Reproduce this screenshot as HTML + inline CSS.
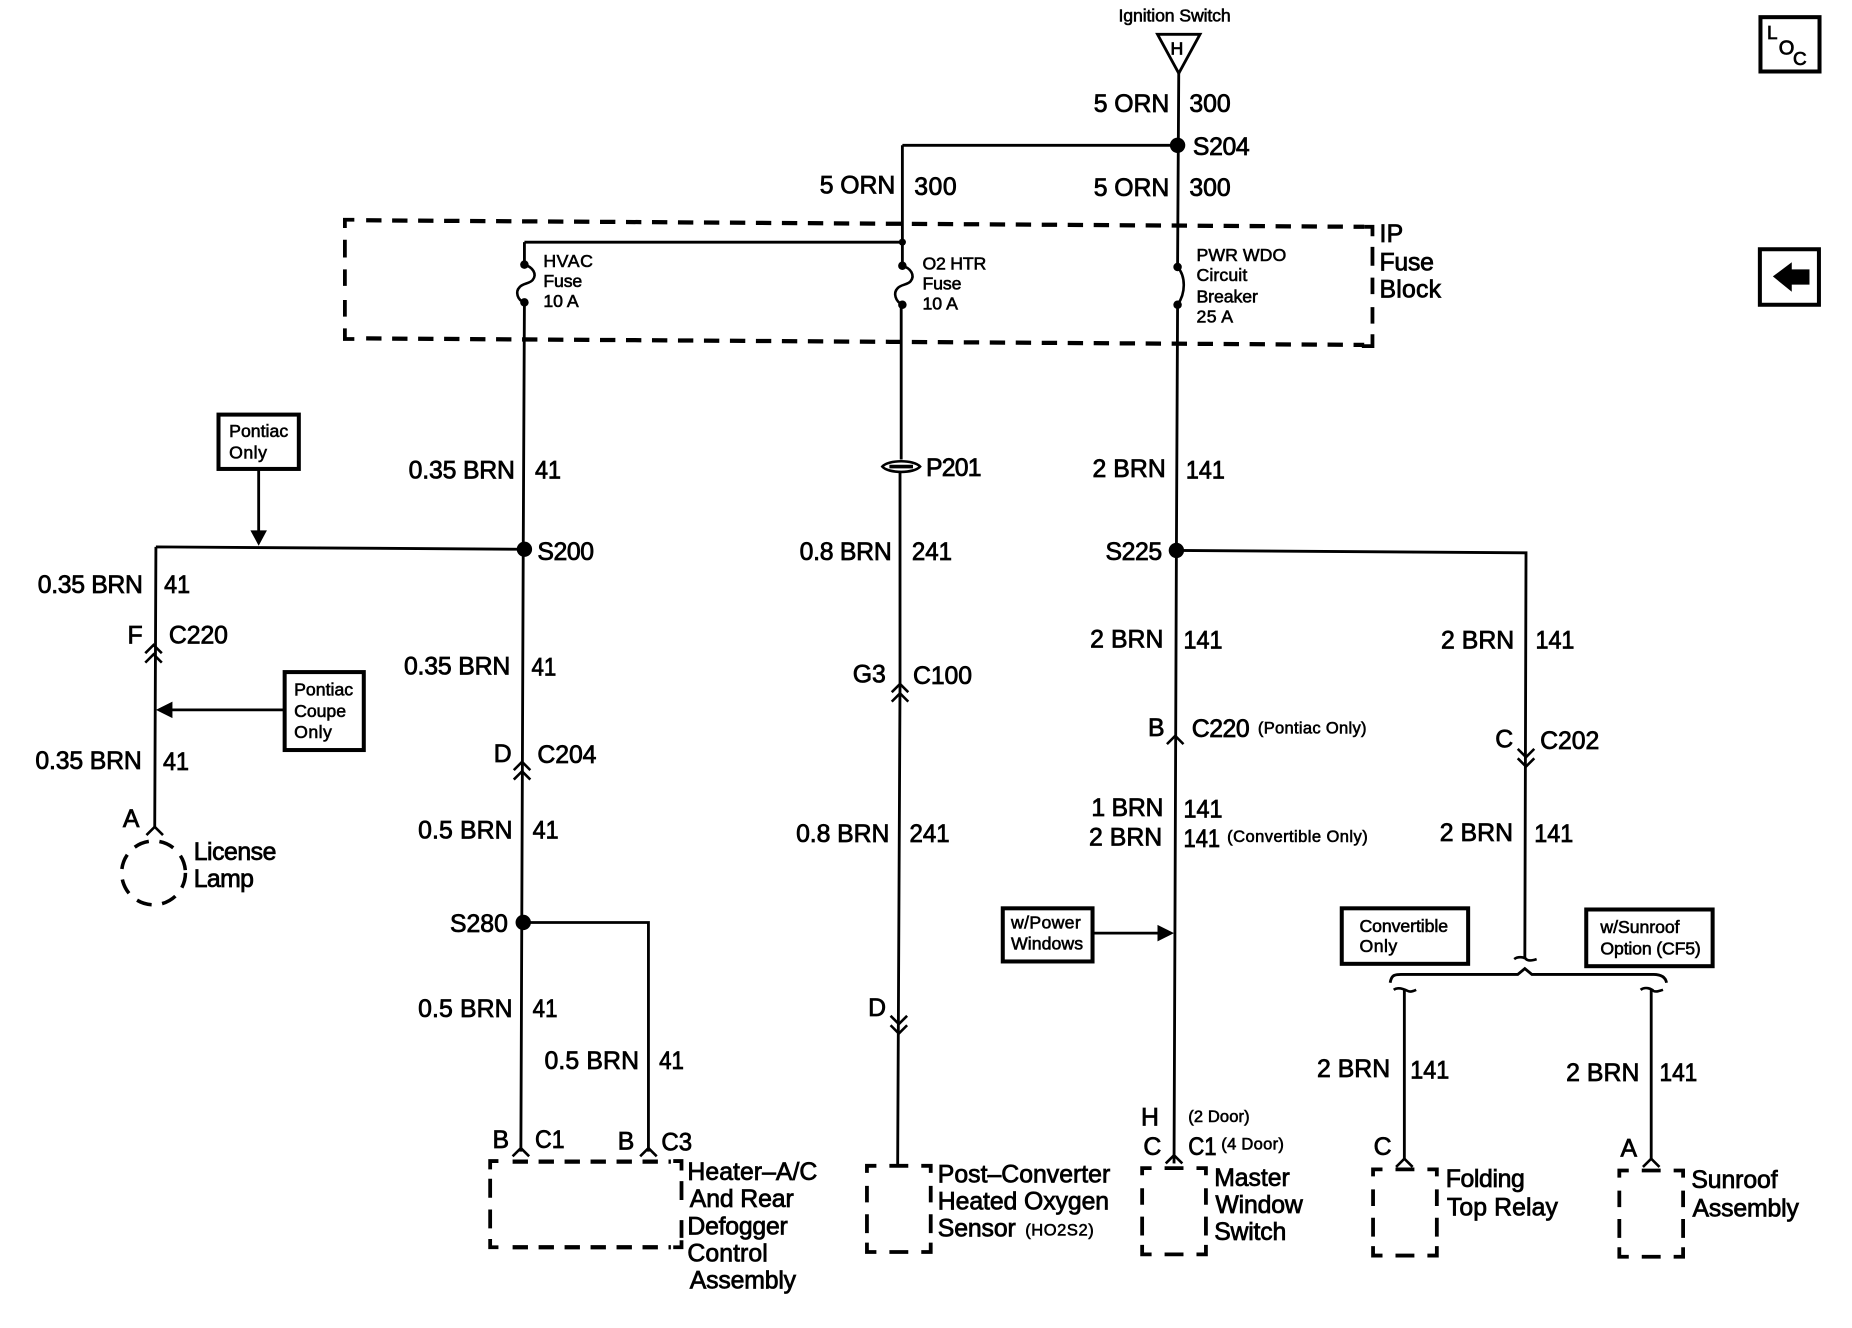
<!DOCTYPE html>
<html><head><meta charset="utf-8"><style>
html,body{margin:0;padding:0;background:#fff;width:1852px;height:1328px;overflow:hidden}
svg{display:block}
text{font-family:"Liberation Sans",sans-serif;fill:#000;stroke:#000;stroke-width:.65;font-size:21px}
.s{font-size:15px;stroke-width:.5}.m{font-size:14px;stroke-width:.5}
.w{fill:none;stroke:#000;stroke-width:2.4}
.d{fill:none;stroke:#000;stroke-width:3.6;stroke-dasharray:13 9}
.e{fill:none;stroke:#000;stroke-width:3.2}
.b{fill:#fff;stroke:#000;stroke-width:3.4}
.c{fill:none;stroke:#000;stroke-width:2.2}
</style></head><body>
<svg width="1852" height="1328" viewBox="0 0 1568 1124.3" xmlns="http://www.w3.org/2000/svg">
<!-- wires -->
<path class="w" d="M998 60L997 225M997 258L996 467L994 985"/>
<path class="w" d="M764 123L997 123M764 123L764 225M763 258L763 389M762 400L762 580L760 988"/>
<path class="w" d="M444 205L764 205M444 205L444 225M444 256L443 465L441 975"/>
<path class="w" d="M132 463L444 465M132 463L131 700"/>
<path class="w" d="M443 781L549 781L549 975"/>
<path class="w" d="M996 466L1292 468L1291 812"/>
<path class="w" d="M1189 838L1189 982M1398 838L1398 982"/>
<!-- splices -->
<circle cx="997" cy="123" r="6.5"/><circle cx="444" cy="465" r="6.5"/><circle cx="996" cy="466" r="6.5"/><circle cx="443" cy="781" r="6.5"/>
<circle cx="764" cy="205" r="3"/>
<!-- fuses -->
<g fill="none" stroke="#000" stroke-width="2.2">
<path d="M444 224C451 226 455 232 451 237C449 240 442 240 440 243C436 247 438 254 444 256"/>
<path d="M764 225C771 227 775 233 771 238C769 241 762 241 760 244C756 248 758 255 764 258"/>
<path d="M997 226C1004 234 1004 248 997 258"/>
</g>
<circle cx="444" cy="224" r="3.6"/><circle cx="444" cy="256" r="3.6"/><circle cx="764" cy="225" r="3.6"/><circle cx="764" cy="258" r="3.6"/><circle cx="997" cy="226" r="3.6"/><circle cx="997" cy="258" r="3.6"/>
<!-- IP fuse block -->
<path class="d" d="M310 186.5L1155 192"/>
<path class="d" d="M310 286.5L1155 292"/>
<path class="e" d="M300 186H292V193M292 203V218M292 228V242M292 254V268M292 278V287H300"/>
<path class="e" d="M1155 192H1162V200M1162 209V225M1162 235V249M1162 260V274M1162 283V293H1153"/>
<!-- P201 -->
<path d="M747 395C752 389 774 389 779 395C774 401 752 401 747 395Z" fill="#fff" stroke="#000" stroke-width="2.2"/>
<path d="M753 395H773" stroke="#000" stroke-width="3"/>
<!-- Ignition -->
<path d="M980 29H1016L998 62Z" fill="#fff" stroke="#000" stroke-width="2.4"/>
<text x="991" y="46" textLength="12" style="font-size:15px">H</text>
<!-- chevrons -->
<path class="c" d="M123 553L130 546L137 553M123 561L130 554L137 561"/>
<path class="c" d="M435 652L442 645L449 652M435 660L442 653L449 660"/>
<path class="c" d="M755 586L762 579L769 586M755 594L762 587L769 594"/>
<path class="c" d="M988 630L995 623L1002 630"/>
<path class="c" d="M1285 634L1292 641L1299 634M1285 642L1292 649L1299 642"/>
<path class="c" d="M754 860L761 867L768 860M754 868L761 875L768 868"/>
<path class="c" d="M124 707L131 700L138 707"/>
<path class="c" d="M434 979L441 972L448 979"/>
<path class="c" d="M542 979L549 972L556 979"/>
<path class="c" d="M987 985L994 978L1001 985"/>
<path class="c" d="M1182 988L1189 981L1196 988"/>
<path class="c" d="M1391 988L1398 981L1405 988"/>
<!-- brackets -->
<path class="w" d="M1177 832C1178 826 1180 825 1186 825H1285L1291 820L1297 825H1400C1406 825 1410 827 1411 832"/>
<path class="c" d="M1282 812C1286 809 1292 811 1292 812C1294 814 1298 813 1301 812"/>
<path class="c" d="M1180 838C1184 835 1190 838 1192 839C1194 840 1197 839 1199 838"/>
<path class="c" d="M1389 838C1393 835 1398 837 1400 839C1402 840 1405 839 1408 838"/>
<!-- note boxes & arrows -->
<rect class="b" x="185" y="351" width="68" height="46"/>
<path class="w" d="M219 397V450"/><path d="M212 449H226L219 462Z"/>
<rect class="b" x="241" y="569" width="67" height="66"/>
<path class="w" d="M240 601H145"/><path d="M146 594V608L132 601Z"/>
<rect class="b" x="849" y="769" width="76" height="45"/>
<path class="w" d="M925 790H982"/><path d="M980 783V797L994 790Z"/>
<rect class="b" x="1136" y="769" width="107" height="47"/>
<rect class="b" x="1343" y="770" width="107" height="48"/>
<rect class="b" x="1490.5" y="14.5" width="50" height="46"/>
<rect class="b" x="1490" y="211" width="50" height="47"/>
<path d="M1501 234L1517 222V228H1532V241H1517V247Z"/>
<!-- dashed devices -->
<circle cx="130" cy="739" r="27" fill="none" stroke="#000" stroke-width="3" stroke-dasharray="13 9"/>
<path class="e" d="M415 990V983H422"/>
<path class="d" d="M434 983.5H568"/>
<path class="e" d="M570 983H577V991M577 1000V1016M577 1033V1048M577 1050V1056H570"/>
<path class="d" d="M434 1056H568"/>
<path class="e" d="M415 998V1014M415 1024V1040M415 1049V1056H422"/>
<g class="e"><path id="dbx" class="e" transform="translate(734,987)" d="M0 6V0H8M19 0H35M46 0H54V6M54 17V31M54 41V57M54 65V73H46M35 73H19M8 73H0V65M0 57V41M0 31V17"/></g>
<path class="e" transform="translate(967,989)" d="M0 6V0H8M19 0H35M46 0H54V6M54 17V31M54 41V57M54 65V73H46M35 73H19M8 73H0V65M0 57V41M0 31V17"/>
<path class="e" transform="translate(1162.5,990)" d="M0 6V0H8M19 0H35M46 0H54V6M54 17V31M54 41V57M54 65V73H46M35 73H19M8 73H0V65M0 57V41M0 31V17"/>
<path class="e" transform="translate(1371,991)" d="M0 6V0H8M19 0H35M46 0H54V6M54 17V31M54 41V57M54 65V73H46M35 73H19M8 73H0V65M0 57V41M0 31V17"/>
<!-- labels -->
<text class="s" x="947" y="18" textLength="95">Ignition Switch</text>
<text x="926" y="95" textLength="64">5 ORN</text><text x="1007" y="95" textLength="35">300</text>
<text x="1010" y="131" textLength="48">S204</text>
<text x="694" y="164" textLength="64">5 ORN</text><text x="774" y="165" textLength="36">300</text>
<text x="926" y="166" textLength="64">5 ORN</text><text x="1007" y="166" textLength="35">300</text>
<text class="s" x="460" y="226" textLength="42">HVAC</text><text class="s" x="460" y="243" textLength="33">Fuse</text><text class="s" x="460" y="260" textLength="30">10 A</text>
<text class="s" x="781" y="228" textLength="54">O2 HTR</text><text class="s" x="781" y="245" textLength="33">Fuse</text><text class="s" x="781" y="262" textLength="30">10 A</text>
<text class="s" x="1013" y="221" textLength="76">PWR WDO</text><text class="s" x="1013" y="238" textLength="43">Circuit</text><text class="s" x="1013" y="256" textLength="52">Breaker</text><text class="s" x="1013" y="273" textLength="31">25 A</text>
<text x="1168" y="205" textLength="20">IP</text><text x="1168" y="229" textLength="46">Fuse</text><text x="1168" y="252" textLength="52">Block</text>
<text x="346" y="405" textLength="90">0.35 BRN</text><text x="453" y="405" textLength="22" lengthAdjust="spacingAndGlyphs">41</text>
<text x="784" y="403" textLength="47">P201</text>
<text x="925" y="404" textLength="62">2 BRN</text><text x="1004" y="405" textLength="33" lengthAdjust="spacingAndGlyphs">141</text>
<text x="455" y="474" textLength="48">S200</text><text x="677" y="474" textLength="78">0.8 BRN</text><text x="772" y="474" textLength="34" lengthAdjust="spacingAndGlyphs">241</text><text x="936" y="474" textLength="48">S225</text>
<text class="s" x="194" y="370" textLength="50">Pontiac</text><text class="s" x="194" y="388" textLength="32">Only</text>
<text x="32" y="502" textLength="89">0.35 BRN</text><text x="139" y="502" textLength="22" lengthAdjust="spacingAndGlyphs">41</text>
<text x="108" y="545" textLength="12">F</text><text x="143" y="545" textLength="50">C220</text>
<text x="342" y="571" textLength="90">0.35 BRN</text><text x="450" y="572" textLength="21" lengthAdjust="spacingAndGlyphs">41</text>
<text x="923" y="548" textLength="62">2 BRN</text><text x="1002" y="549" textLength="33" lengthAdjust="spacingAndGlyphs">141</text><text x="1220" y="549" textLength="62">2 BRN</text><text x="1300" y="549" textLength="33" lengthAdjust="spacingAndGlyphs">141</text>
<text x="722" y="578" textLength="28">G3</text><text x="773" y="579" textLength="50">C100</text>
<text class="s" x="249" y="589" textLength="50">Pontiac</text><text class="s" x="249" y="607" textLength="44">Coupe</text><text class="s" x="249" y="625" textLength="32">Only</text>
<text x="972" y="623" textLength="13">B</text><text x="1009" y="624" textLength="49">C220</text><text class="m" x="1065" y="621" textLength="92">(Pontiac Only)</text>
<text x="1266" y="633" textLength="15">C</text><text x="1304" y="634" textLength="50">C202</text>
<text x="418" y="645" textLength="14">D</text><text x="455" y="646" textLength="50">C204</text>
<text x="30" y="651" textLength="90">0.35 BRN</text><text x="138" y="652" textLength="22" lengthAdjust="spacingAndGlyphs">41</text>
<text x="924" y="691" textLength="61">1 BRN</text><text x="1002" y="692" textLength="33" lengthAdjust="spacingAndGlyphs">141</text><text x="922" y="716" textLength="62">2 BRN</text><text x="1002" y="717" textLength="31" lengthAdjust="spacingAndGlyphs">141</text><text class="m" x="1039" y="713" textLength="119">(Convertible Only)</text>
<text x="354" y="710" textLength="80">0.5 BRN</text><text x="451" y="710" textLength="22" lengthAdjust="spacingAndGlyphs">41</text><text x="674" y="713" textLength="79">0.8 BRN</text><text x="770" y="713" textLength="34" lengthAdjust="spacingAndGlyphs">241</text><text x="1219" y="712" textLength="62">2 BRN</text><text x="1299" y="713" textLength="33" lengthAdjust="spacingAndGlyphs">141</text>
<text x="104" y="700" textLength="14">A</text><text x="164" y="728" textLength="70">License</text><text x="164" y="751" textLength="51">Lamp</text>
<text x="381" y="789" textLength="49">S280</text>
<text class="s" x="856" y="786" textLength="59">w/Power</text><text class="s" x="856" y="804" textLength="61">Windows</text>
<text class="s" x="1151" y="789" textLength="75">Convertible</text><text class="s" x="1151" y="806" textLength="32">Only</text>
<text class="s" x="1355" y="790" textLength="67">w/Sunroof</text><text class="s" x="1355" y="808" textLength="85">Option (CF5)</text>
<text x="354" y="861" textLength="80">0.5 BRN</text><text x="451" y="861" textLength="21" lengthAdjust="spacingAndGlyphs">41</text><text x="735" y="860" textLength="14">D</text>
<text x="461" y="905" textLength="80">0.5 BRN</text><text x="558" y="905" textLength="21" lengthAdjust="spacingAndGlyphs">41</text>
<text x="1115" y="912" textLength="62">2 BRN</text><text x="1194" y="913" textLength="33" lengthAdjust="spacingAndGlyphs">141</text><text x="1326" y="915" textLength="62">2 BRN</text><text x="1405" y="915" textLength="32" lengthAdjust="spacingAndGlyphs">141</text>
<text x="966" y="953" textLength="16">H</text><text class="m" x="1006" y="950" textLength="52">(2 Door)</text><text x="968" y="978" textLength="15">C</text><text x="1006" y="978" textLength="24" lengthAdjust="spacingAndGlyphs">C1</text><text class="m" x="1034" y="973" textLength="53">(4 Door)</text>
<text x="417" y="972" textLength="13">B</text><text x="453" y="972" textLength="25" lengthAdjust="spacingAndGlyphs">C1</text><text x="523" y="973" textLength="14">B</text><text x="560" y="974" textLength="26" lengthAdjust="spacingAndGlyphs">C3</text>
<text x="1163" y="978" textLength="15">C</text><text x="1372" y="979" textLength="14">A</text>
<text x="582" y="999" textLength="110">Heater–A/C</text><text x="584" y="1022" textLength="88">And Rear</text><text x="582" y="1045" textLength="85">Defogger</text><text x="582" y="1068" textLength="68">Control</text><text x="584" y="1091" textLength="90">Assembly</text>
<text x="794" y="1001" textLength="146">Post–Converter</text><text x="794" y="1024" textLength="145">Heated Oxygen</text><text x="794" y="1047" textLength="66">Sensor</text><text class="m" x="868" y="1046" textLength="58">(HO2S2)</text>
<text x="1028" y="1004" textLength="64">Master</text><text x="1029" y="1027" textLength="74">Window</text><text x="1028" y="1050" textLength="61">Switch</text>
<text x="1224" y="1005" textLength="67">Folding</text><text x="1225" y="1029" textLength="94">Top Relay</text>
<text x="1432" y="1006" textLength="73">Sunroof</text><text x="1433" y="1030" textLength="90">Assembly</text>
<text x="1496" y="33" style="font-size:16px">L</text><text x="1506" y="46" style="font-size:17px">O</text><text x="1518" y="55" style="font-size:16px">C</text>
</svg>
</body></html>
